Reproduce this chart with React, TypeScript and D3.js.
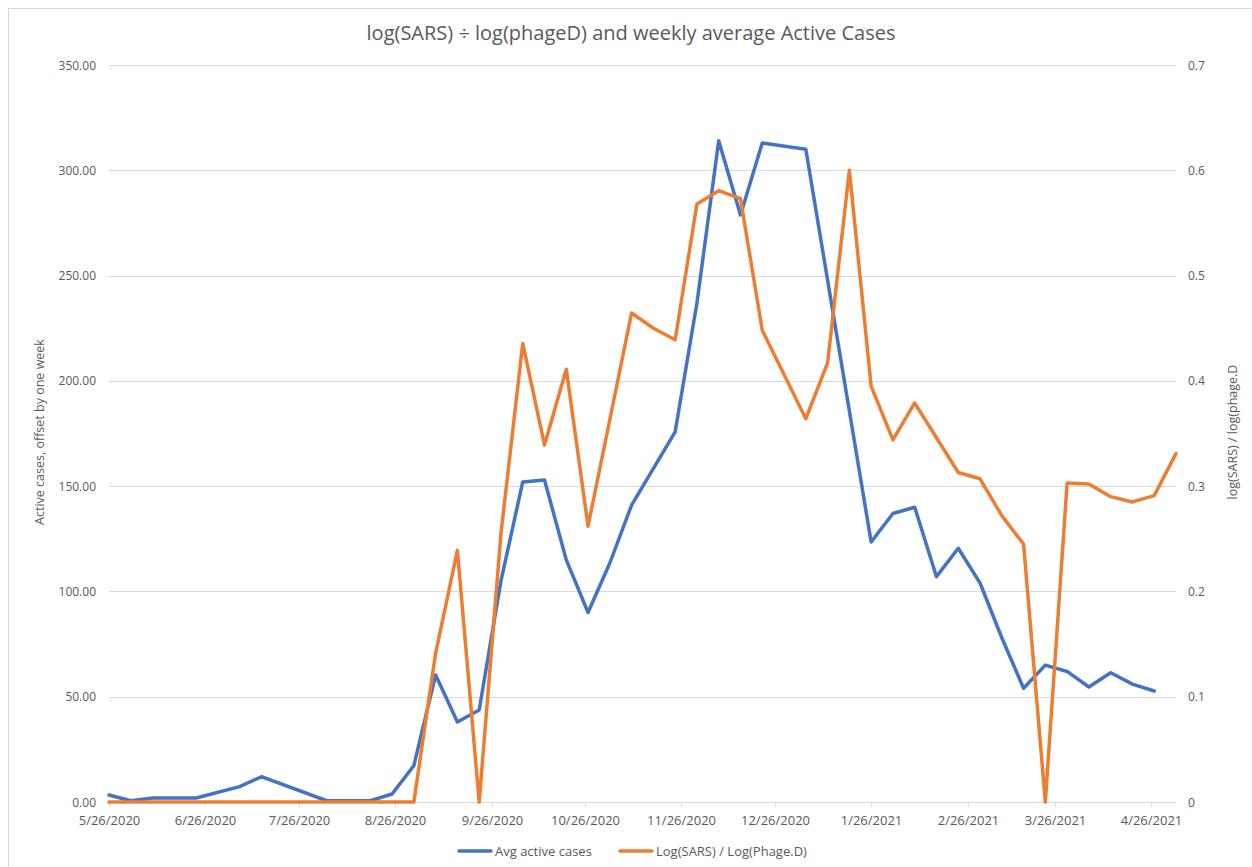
import React from "react";
import * as d3 from "d3";

const weekDates = [
  "2020-05-26", "2020-06-02", "2020-06-09", "2020-06-16", "2020-06-23", "2020-06-30",
  "2020-07-07", "2020-07-14", "2020-07-21", "2020-07-28", "2020-08-04", "2020-08-11",
  "2020-08-18", "2020-08-25", "2020-09-01", "2020-09-08", "2020-09-15", "2020-09-22",
  "2020-09-29", "2020-10-06", "2020-10-13", "2020-10-20", "2020-10-27", "2020-11-03",
  "2020-11-10", "2020-11-17", "2020-11-24", "2020-12-01", "2020-12-08", "2020-12-15",
  "2020-12-22", "2020-12-29", "2021-01-05", "2021-01-12", "2021-01-19", "2021-01-26",
  "2021-02-02", "2021-02-09", "2021-02-16", "2021-02-23", "2021-03-02", "2021-03-09",
  "2021-03-16", "2021-03-23", "2021-03-30", "2021-04-06", "2021-04-13", "2021-04-20",
  "2021-04-27", "2021-05-04",
];

const avgActiveCases: (number | null)[] = [
  3.3, 0.6, 1.9, 1.9, 1.9, null, 7.3, 12, null, null, 0.6, 0.6,
  0.6, 3.8, 17.3, 60.3, 38, 43.7, 105, 152, 152.9, 115, 90, 113.5,
  141, null, 175.8, 237, 314, 278.8, 313, null, 310, null, null, 123.5,
  137, 140, 107, 120.5, 104, 78, 54, 65, 62, 54.6, 61.4, 56,
  52.7, null,
];

const logRatio: (number | null)[] = [
  0, 0, 0, 0, 0, 0, 0, 0, 0, 0, 0, 0,
  0, 0, 0, 0.1415, 0.239, 0, 0.255, 0.4355, 0.339, 0.411, 0.262, null,
  0.4645, 0.45, 0.439, 0.568, 0.5806, 0.573, 0.448, null, 0.364, 0.417, 0.6, 0.395,
  0.344, 0.379, null, 0.313, 0.307, 0.272, 0.245, 0, 0.303, 0.302, 0.29, 0.285,
  0.291, 0.331,
];

const xTickLabels = [
  "5/26/2020", "6/26/2020", "7/26/2020", "8/26/2020", "9/26/2020", "10/26/2020",
  "11/26/2020", "12/26/2020", "1/26/2021", "2/26/2021", "3/26/2021", "4/26/2021",
];
const leftTicks = [0, 50, 100, 150, 200, 250, 300, 350];
const rightTicks = [0, 0.1, 0.2, 0.3, 0.4, 0.5, 0.6, 0.7];

const seriesNames = ["Avg active cases", "Log(SARS) / Log(Phage.D)"];
const titleText = "log(SARS) ÷ log(phageD) and weekly average Active Cases";
const leftTitle = "Active cases, offset by one week";
const rightTitle = "log(SARS) / log(phage.D";

const BLUE = "#4472C4";
const ORANGE = "#ED7D31";
const TEXT = "#595959";
const GRID = "#d9d9d9";
const FONT = "'Open Sans', 'Segoe UI', sans-serif";

export default function App() {
  const W = 1252, H = 867;
  const left = 109, right = 1176, top = 65, bottom = 802;
  const parseISO = d3.timeParse("%Y-%m-%d");
  const parseUS = d3.timeParse("%m/%d/%Y");
  const dates = weekDates.map((d) => parseISO(d) as Date);

  const x = d3.scaleTime().domain([dates[0], dates[dates.length - 1]]).range([left, right]);
  const yL = d3.scaleLinear().domain([0, 350]).range([bottom, top]);
  const yR = d3.scaleLinear().domain([0, 0.7]).range([bottom, top]);

  const bluePts: [number, number][] = [];
  avgActiveCases.forEach((v, i) => { if (v !== null) bluePts.push([x(dates[i]), yL(v)]); });
  const orangePts: [number, number][] = [];
  logRatio.forEach((v, i) => { if (v !== null) orangePts.push([x(dates[i]), yR(v)]); });
  const line = d3.line<[number, number]>();

  const fmtL = d3.format(".2f");

  return (
    <svg width={W} height={H} style={{ position: "fixed", left: 0, top: 0, background: "#fff" }}>
      <rect x={8.5} y={8.5} width={1300} height={900} fill="#fff" stroke={GRID} strokeWidth={1} />
      <text x={631} y={40} textAnchor="middle" fontFamily={FONT} fontSize={20} fill={TEXT}>{titleText}</text>

      {leftTicks.map((t) => (
        <g key={"g" + t}>
          <line x1={left} x2={right} y1={Math.round(yL(t)) + 0.5} y2={Math.round(yL(t)) + 0.5} stroke={GRID} strokeWidth={1} />
          <text x={96} y={yL(t) + 4.5} textAnchor="end" fontFamily={FONT} fontSize={12} fill={TEXT}>{fmtL(t)}</text>
        </g>
      ))}
      {rightTicks.map((t) => (
        <text key={"r" + t} x={1188} y={yR(t) + 4.5} textAnchor="start" fontFamily={FONT} fontSize={12} fill={TEXT}>{String(t)}</text>
      ))}

      {xTickLabels.map((l) => {
        const d = parseUS(l) as Date;
        const px = Math.round(x(d)) + 0.5;
        return (
          <g key={l}>
            <line x1={px} x2={px} y1={bottom} y2={bottom + 5} stroke={GRID} strokeWidth={1} />
            <text x={px} y={825} textAnchor="middle" fontFamily={FONT} fontSize={13} fill={TEXT}>{l}</text>
          </g>
        );
      })}

      <text transform={`translate(44,432) rotate(-90)`} textAnchor="middle" fontFamily={FONT} fontSize={12.5} fill={TEXT}>{leftTitle}</text>
      <text transform={`translate(1237,432) rotate(-90)`} textAnchor="middle" fontFamily={FONT} fontSize={12.5} fill={TEXT}>{rightTitle}</text>

      <path d={line(bluePts) || ""} fill="none" stroke={BLUE} strokeWidth={3.5} strokeLinejoin="round" strokeLinecap="round" />
      <path d={line(orangePts) || ""} fill="none" stroke={ORANGE} strokeWidth={3.5} strokeLinejoin="round" strokeLinecap="round" />

      <g>
        <line x1={459} x2={491} y1={851} y2={851} stroke={BLUE} strokeWidth={3.5} strokeLinecap="round" />
        <text x={495} y={855.5} fontFamily={FONT} fontSize={13} fill={TEXT}>{seriesNames[0]}</text>
        <line x1={620} x2={652} y1={851} y2={851} stroke={ORANGE} strokeWidth={3.5} strokeLinecap="round" />
        <text x={656} y={855.5} fontFamily={FONT} fontSize={13} fill={TEXT}>{seriesNames[1]}</text>
      </g>
    </svg>
  );
}
